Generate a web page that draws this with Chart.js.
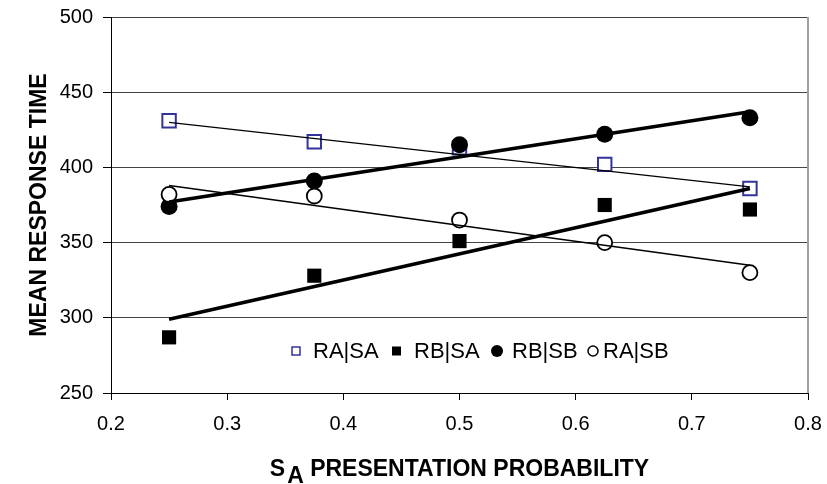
<!DOCTYPE html>
<html>
<head>
<meta charset="utf-8">
<script src="https://cdn.jsdelivr.net/npm/chart.js@4.4.1/dist/chart.umd.min.js"></script>
<style>
  html, body { margin: 0; padding: 0; background: #fff; }
</style>
</head>
<body>
<canvas id="chart" width="827" height="484"></canvas>
<script>
// --- DATOS ---
const xValues = [0.25, 0.375, 0.5, 0.625, 0.75];
const raSa = [431, 417, 413, 402, 386];
const rbSa = [287, 328, 351, 375, 372];
const rbSb = [374, 391, 415, 422, 433];
const raSb = [382, 381, 365, 350, 330];

// lineas de tendencia (extremos)
const trendX = [0.25, 0.75];
const raSaTrend = [430, 387];
const rbSaTrend = [299, 386];
const rbSbTrend = [377, 437];
const raSbTrend = [388, 335];

const seriesNames = ['RA|SA', 'RB|SA', 'RB|SB', 'RA|SB'];
const xTicks = [0.2, 0.3, 0.4, 0.5, 0.6, 0.7, 0.8];
const yTicks = [250, 300, 350, 400, 450, 500];
const yTitle = 'MEAN RESPONSE TIME';
const xTitleMain = 'S';
const xTitleSub = 'A';
const xTitleRest = ' PRESENTATION PROBABILITY';

const FONT = "'Liberation Sans', Arial, sans-serif";
const NAVY = '#333399';

const toPoints = (xs, ys) => xs.map((x, i) => ({ x: x, y: ys[i] }));

// --- PLUGINS ---
const frameAndTitles = {
    id: 'frameAndTitles',
    afterDraw(chart) {
        const { ctx, chartArea } = chart;
        ctx.save();
        // borde derecho gris del area de trazado
        ctx.strokeStyle = '#a0a0a0';
        ctx.lineWidth = 2;
        ctx.beginPath();
        ctx.moveTo(chartArea.right, chartArea.top);
        ctx.lineTo(chartArea.right, chartArea.bottom);
        ctx.stroke();

        // titulo eje Y
        ctx.fillStyle = '#000';
        ctx.font = 'bold 23px ' + FONT;
        ctx.textAlign = 'center';
        ctx.textBaseline = 'middle';
        ctx.translate(40, (chartArea.top + chartArea.bottom) / 2);
        ctx.rotate(-Math.PI / 2);
        ctx.fillText(yTitle, 0, 0);
        ctx.restore();

        // titulo eje X con subindice
        ctx.save();
        ctx.fillStyle = '#000';
        ctx.font = 'bold 23px ' + FONT;
        ctx.textAlign = 'left';
        ctx.textBaseline = 'alphabetic';
        const wS = ctx.measureText(xTitleMain).width;
        const wA = ctx.measureText(xTitleSub).width;
        const wR = ctx.measureText(xTitleRest).width;
        const total = wS + 2 + wA + wR;
        let x = (chartArea.left + chartArea.right) / 2 - total / 2;
        const base = 476;
        ctx.fillText(xTitleMain, x, base);
        x += wS + 2;
        ctx.fillText(xTitleSub, x, base + 7);
        x += wA;
        ctx.fillText(xTitleRest, x, base);
        ctx.restore();

        // leyenda dentro del grafico
        ctx.save();
        const ly = 351;
        const markX = [296, 396.5, 497, 593];
        const textX = [313, 414, 512, 603];
        ctx.font = '22px ' + FONT;
        ctx.textBaseline = 'middle';
        ctx.textAlign = 'left';
        seriesNames.forEach((name, i) => {
            const mx = markX[i];
            ctx.lineWidth = 1.5;
            if (i === 0) {
                ctx.fillStyle = '#fff';
                ctx.strokeStyle = NAVY;
                ctx.fillRect(mx - 4, ly - 4, 8, 8);
                ctx.strokeRect(mx - 4, ly - 4, 8, 8);
            } else if (i === 1) {
                ctx.fillStyle = '#000';
                ctx.fillRect(mx - 4.5, ly - 4.5, 9, 9);
            } else if (i === 2) {
                ctx.fillStyle = '#000';
                ctx.beginPath();
                ctx.arc(mx, ly, 6, 0, Math.PI * 2);
                ctx.fill();
            } else {
                ctx.fillStyle = '#fff';
                ctx.strokeStyle = '#000';
                ctx.beginPath();
                ctx.arc(mx, ly, 5, 0, Math.PI * 2);
                ctx.fill();
                ctx.stroke();
            }
            ctx.fillStyle = '#000';
            ctx.fillText(name, textX[i], ly + 1);
        });
        ctx.restore();
    }
};

// --- GRAFICO ---
const ctx = document.getElementById('chart').getContext('2d');
new Chart(ctx, {
    type: 'scatter',
    data: {
        datasets: [
            { label: seriesNames[0], data: toPoints(xValues, raSa), order: 4,
              pointStyle: 'rect', pointRadius: 9.5, pointBackgroundColor: '#fff',
              pointBorderColor: NAVY, pointBorderWidth: 2 },
            { label: seriesNames[1], data: toPoints(xValues, rbSa), order: 3,
              pointStyle: 'rect', pointRadius: 10, pointBackgroundColor: '#000',
              pointBorderColor: '#000', pointBorderWidth: 0 },
            { label: seriesNames[2], data: toPoints(xValues, rbSb), order: 2,
              pointStyle: 'circle', pointRadius: 8.5, pointBackgroundColor: '#000',
              pointBorderColor: '#000', pointBorderWidth: 0 },
            { label: seriesNames[3], data: toPoints(xValues, raSb), order: 1,
              pointStyle: 'circle', pointRadius: 7.5, pointBackgroundColor: '#fff',
              pointBorderColor: '#000', pointBorderWidth: 1.8 },
            { label: 'trend RA|SA', data: toPoints(trendX, raSaTrend), order: 0,
              showLine: true, pointRadius: 0, borderColor: '#000', borderWidth: 1.2 },
            { label: 'trend RB|SA', data: toPoints(trendX, rbSaTrend), order: 0,
              showLine: true, pointRadius: 0, borderColor: '#000', borderWidth: 3.5 },
            { label: 'trend RB|SB', data: toPoints(trendX, rbSbTrend), order: 0,
              showLine: true, pointRadius: 0, borderColor: '#000', borderWidth: 3.5 },
            { label: 'trend RA|SB', data: toPoints(trendX, raSbTrend), order: 0,
              showLine: true, pointRadius: 0, borderColor: '#000', borderWidth: 1.5 }
        ]
    },
    options: {
        responsive: false,
        animation: false,
        layout: { padding: { top: 17, right: 19, left: 0, bottom: 0 } },
        plugins: {
            legend: { display: false },
            tooltip: { enabled: false }
        },
        scales: {
            x: {
                type: 'linear',
                min: 0.2, max: 0.8,
                afterBuildTicks: s => { s.ticks = xTicks.map(v => ({ value: v })); },
                afterFit: s => { s.height = 91; s.paddingLeft = 0; s.paddingRight = 0; },
                grid: { drawOnChartArea: false, drawTicks: true, tickLength: 7, tickColor: '#000' },
                border: { color: '#000', width: 1 },
                ticks: {
                    color: '#000', padding: 12, maxRotation: 0,
                    font: { family: FONT, size: 20 },
                    callback: v => v.toFixed(1)
                }
            },
            y: {
                min: 250, max: 500,
                afterBuildTicks: s => { s.ticks = yTicks.map(v => ({ value: v })); },
                afterFit: s => { s.width = 111; s.paddingTop = 0; s.paddingBottom = 0; },
                grid: { color: '#444', lineWidth: 1, tickLength: 8, tickColor: '#000' },
                border: { color: '#000', width: 1 },
                ticks: {
                    color: '#000', padding: 10,
                    font: { family: FONT, size: 20 }
                }
            }
        }
    },
    plugins: [frameAndTitles]
});
</script>
</body>
</html>
